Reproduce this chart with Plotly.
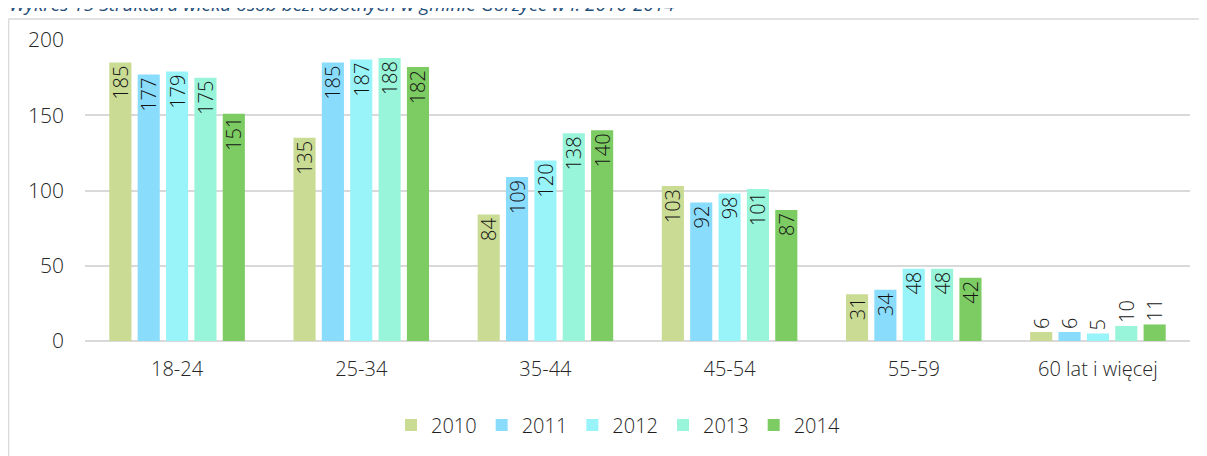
import plotly.graph_objects as go

categories = ["18-24", "25-34", "35-44", "45-54", "55-59", "60 lat i więcej"]
years = ["2010", "2011", "2012", "2013", "2014"]
v2010 = [185, 135, 84, 103, 31, 6]
v2011 = [177, 185, 109, 92, 34, 6]
v2012 = [179, 187, 120, 98, 48, 5]
v2013 = [175, 188, 138, 101, 48, 10]
v2014 = [151, 182, 140, 87, 42, 11]
series = [v2010, v2011, v2012, v2013, v2014]
colors = ["#CADB94", "#8ADCFD", "#99F4F9", "#99F5DA", "#7DCB63"]

FONT = "Open Sans"
OFF = 8  # page body margin
W, H = 1199, 448
L, T = 85 - OFF, 40 - OFF
R = W - (1190 - OFF)
B = H - (341 - OFF)
pw, ph = W - L - R, H - T - B

def px_x(x):  # page pixel -> paper
    return (x - OFF - L) / pw

def px_y(y):
    return (H - B - (y - OFF)) / ph

fig = go.Figure()
for name, vals, col in zip(years, series, colors):
    fig.add_trace(go.Bar(
        x=categories, y=vals, name=name,
        marker=dict(color=col, line=dict(width=0)),
        text=[str(v) for v in vals],
        textposition=["inside" if v >= 20 else "outside" for v in vals],
        insidetextanchor="end",
        textangle=-90,
        constraintext="none",
        cliponaxis=False,
        textfont=dict(family=FONT, size=20, color="#141414", weight=300),
    ))

fig.update_layout(
    width=W, height=H,
    margin=dict(l=L, r=R, t=T, b=B, autoexpand=False),
    paper_bgcolor="white", plot_bgcolor="white",
    barmode="group", bargap=0.23, bargroupgap=0.22,
    font=dict(family=FONT, color="#404040", weight=300),
    showlegend=True,
    legend=dict(orientation="h", x=px_x(618), xanchor="center", y=px_y(425), yanchor="middle",
                font=dict(family=FONT, size=20, color="#1E1E1E", weight=300),
                itemwidth=30, tracegroupgap=0, traceorder="normal"),
    xaxis=dict(showgrid=False, showline=False, ticks="",
               tickfont=dict(family=FONT, size=20, color="#262626", weight=300),
               ticklabelstandoff=14),
    yaxis=dict(range=[0, 200], dtick=50, showgrid=True, gridcolor="#D9D9D9", gridwidth=1.5,
               zeroline=True, zerolinecolor="#D9D9D9", zerolinewidth=1.5,
               showline=False, ticks="",
               tickfont=dict(family=FONT, size=21, color="#262626", weight=300),
               ticklabelstandoff=20),
)

# outer frame lines (top and left)
fig.add_shape(type="line", xref="paper", yref="paper",
              x0=px_x(8.5), x1=px_x(1215), y0=px_y(19), y1=px_y(19),
              line=dict(color="#D9D9D9", width=1.5))
fig.add_shape(type="line", xref="paper", yref="paper",
              x0=px_x(8.5), x1=px_x(8.5), y0=px_y(19), y1=px_y(470),
              line=dict(color="#D9D9D9", width=1.5))

fig.add_annotation(
    text="Wykres 15 Struktura wieku osób bezrobotnych w gminie Gorzyce w l. 2010-2014",
    xref="paper", yref="paper", x=px_x(7), y=px_y(19), xanchor="left", yanchor="bottom",
    showarrow=False,
    font=dict(family=FONT, size=19, color="#1F4E79", style="italic", weight=400),
)

fig.write_html("out.html")
